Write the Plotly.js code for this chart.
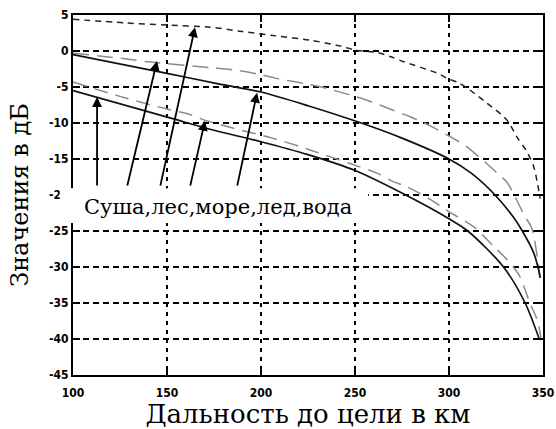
<!DOCTYPE html>
<html>
<head>
<meta charset="utf-8">
<script src="https://cdn.plot.ly/plotly-3.0.1.min.js"></script>
<style>
html,body{margin:0;padding:0;background:#fff;}
#chart{width:556px;height:429px;}
</style>
</head>
<body>
<div id="chart"></div>
<script>
// Range values (km)
var xTop = [100,128,150,173,190,208,226,244,250,262,269,276,294,299,305,311,320,329,332,336,341,345,347,348.5];
var yTop = [4.4,3.9,3.6,3.3,2.7,2.1,1.5,0.6,0.1,-0.2,-0.8,-1.5,-3.1,-3.8,-4.4,-5.4,-7.2,-9.1,-10,-11.9,-13.8,-16,-18.3,-20.5];

var xUpperDash = [100,125,140,173,185,200,208,225,235,256,270,279,290,302,308.5,325,331,340,344,348.4];
var yUpperDash = [-0.3,-1.0,-1.5,-2.3,-2.6,-3.3,-3.8,-4.6,-5.2,-6.8,-8.2,-9.1,-10.4,-12.1,-13.1,-16.8,-18.3,-22.8,-24.6,-31.4];

var xUpperSolid = [100,150,178,200,225,251,275,300,312,324.5,334,339,345,347.5,348.5];
var yUpperSolid = [-0.5,-3.1,-4.6,-5.7,-7.6,-9.8,-12.1,-15,-17,-20,-23,-25,-28,-30.2,-31.5];

var xLowerDash = [100,125,149,162,170,185,206,221,230,247,262,270,278,290,300.5,313,324,331,337,340,343,347,349];
var yLowerDash = [-4.3,-6.3,-8.0,-8.8,-9.6,-10.7,-12.1,-13.3,-14.1,-15.6,-17,-18.1,-18.9,-20.6,-22.4,-24.4,-27.2,-29,-31,-32.8,-35,-37.4,-40];

var xLowerSolid = [100,153,175,200,225,250,277,300,310,329,340.5,348];
var yLowerSolid = [-5.5,-9.4,-11.0,-12.6,-14.4,-16.6,-20,-23.3,-25,-30,-35,-40];

var xTicks = [100,150,200,250,300,350];
var yTicks = [5,0,-5,-10,-15,-20,-25,-30,-35,-40,-45];

var labelText = "Суша,лес,море,лед,вода";
// arrows: tip and base positions
var arrowTipX = [112.8,144.7,164.9,170.2,197.9];
var arrowTipY = [-6.4,-1.4,3.3,-9.7,-5.8];
var arrowBaseX = [112.8,128.7,146.3,162.2,187.2];
var arrowBaseY = [-18.9,-18.9,-18.9,-18.9,-18.9];

var traces = [
  {x:xTop, y:yTop, mode:'lines', line:{color:'#222', width:1.5, dash:'6px,5px', shape:'spline', smoothing:0.8}},
  {x:xUpperDash, y:yUpperDash, mode:'lines', line:{color:'#8a8a8a', width:1.5, dash:'16px,8px', shape:'spline', smoothing:0.8}},
  {x:xUpperSolid, y:yUpperSolid, mode:'lines', line:{color:'#111', width:1.7, shape:'spline', smoothing:0.8}},
  {x:xLowerDash, y:yLowerDash, mode:'lines', line:{color:'#8a8a8a', width:1.5, dash:'14px,8px', shape:'spline', smoothing:0.8}},
  {x:xLowerSolid, y:yLowerSolid, mode:'lines', line:{color:'#111', width:1.7, shape:'spline', smoothing:0.8}}
];

var tickFont = {family:'"Liberation Sans Narrow","DejaVu Sans Condensed",sans-serif', size:12, color:'#000', weight:'bold'};
var xTitleFont = {family:'"DejaVu Serif","Liberation Serif",serif', size:26, color:'#000'};
var yTitleFont = {family:'"DejaVu Serif","Liberation Serif",serif', size:24, color:'#000'};

var annotations = [{
  x:104.8, y:-21.6, xref:'x', yref:'y', xanchor:'left', yanchor:'middle',
  text:labelText, showarrow:false,
  font:{family:'"DejaVu Serif","Liberation Serif",serif', size:21, color:'#000'}
}];
for (var i=0;i<arrowTipX.length;i++){
  annotations.push({
    x:arrowTipX[i], y:arrowTipY[i], ax:arrowBaseX[i], ay:arrowBaseY[i],
    xref:'x', yref:'y', axref:'x', ayref:'y', text:'', showarrow:true,
    arrowhead:2, arrowsize:1.1, arrowwidth:1.8, arrowcolor:'#000'
  });
}

var layout = {
  width:556, height:429,
  margin:{l:73, r:13, t:15, b:54},
  paper_bgcolor:'#fff', plot_bgcolor:'#fff',
  showlegend:false,
  xaxis:{
    range:[100,350], tickvals:xTicks, ticktext:xTicks.map(String),
    showgrid:true, gridcolor:'#000', gridwidth:2, griddash:'4px,5px',
    showline:true, linecolor:'#000', linewidth:2, mirror:'ticks',
    ticks:'inside', ticklen:7, tickwidth:2, tickcolor:'#000',
    zeroline:false, tickfont:tickFont, ticklabelstandoff:6,
    title:{text:'Дальность до цели в км', font:xTitleFont, standoff:4}
  },
  yaxis:{
    range:[-45,5], tickvals:yTicks, ticktext:yTicks.map(String),
    showgrid:true, gridcolor:'#000', gridwidth:2, griddash:'6px,4px',
    showline:true, linecolor:'#000', linewidth:2, mirror:'ticks',
    ticks:'inside', ticklen:7, tickwidth:2, tickcolor:'#000',
    zeroline:false, tickfont:tickFont,
    title:{text:'Значения в дБ', font:yTitleFont, standoff:14}
  },
  shapes:[{
    type:'rect', xref:'paper', yref:'paper', layer:'above',
    x0:-0.028, x1:0.628, y0:0.422, y1:0.519,
    fillcolor:'#fff', line:{width:0}
  }],
  annotations:annotations
};

Plotly.newPlot('chart', traces, layout, {staticPlot:true, displayModeBar:false});
</script>
</body>
</html>
